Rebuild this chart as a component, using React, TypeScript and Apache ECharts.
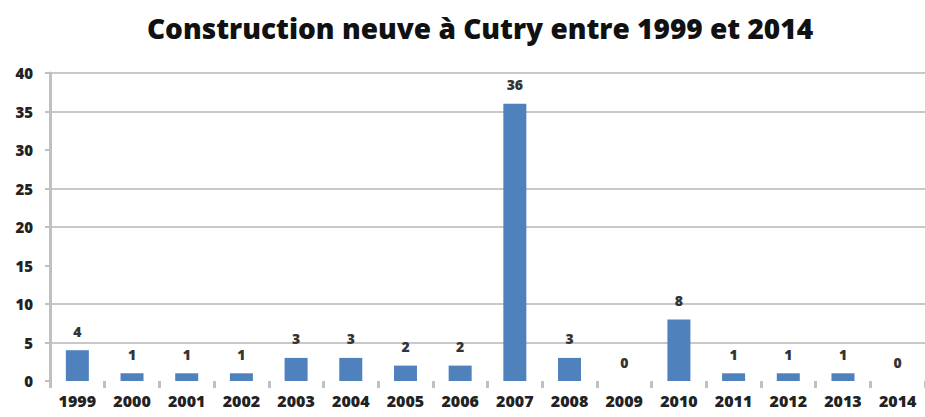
import React, { useEffect, useRef } from "react";
import * as echarts from "echarts";

const years = ["1999","2000","2001","2002","2003","2004","2005","2006","2007","2008","2009","2010","2011","2012","2013","2014"];
const counts = [4,1,1,1,3,3,2,2,36,3,0,8,1,1,1,0];
const titleText = "Construction neuve à Cutry entre 1999 et 2014";

export default function App() {
  const ref = useRef<HTMLDivElement>(null);
  useEffect(() => {
    if (!ref.current) return;
    const chart = echarts.init(ref.current, null, { renderer: "svg" });
    const font = "Open Sans";
    chart.setOption({
      animation: false,
      backgroundColor: "#ffffff",
      title: {
        text: titleText,
        left: 475,
        textAlign: "center",
        top: 9,
        textStyle: { fontFamily: font, fontWeight: 800, fontSize: 28, color: "#111" },
      },
      grid: { left: 50, top: 73, bottom: 36, width: 883 },
      xAxis: {
        type: "category",
        data: years,
        axisLine: { show: false },
        axisTick: { show: true, length: 7, lineStyle: { color: "#c0c0c0", width: 3 } },
        axisLabel: { fontFamily: font, fontWeight: 800, fontSize: 16, color: "#222", margin: 12 },
      },
      yAxis: {
        type: "value",
        min: 0,
        max: 40,
        interval: 5,
        axisLine: { show: true, lineStyle: { color: "#c0c0c0", width: 3 } },
        axisTick: { show: true, length: 5, lineStyle: { color: "#c0c0c0", width: 2 } },
        axisLabel: { fontFamily: font, fontWeight: 800, fontSize: 15, color: "#222", margin: 17 },
        splitLine: {
          lineStyle: {
            color: ["transparent", "#c8c8c8", "#c8c8c8", "transparent", "#c8c8c8", "#c8c8c8", "transparent", "#c8c8c8", "#c8c8c8"],
            width: 2,
          },
        },
      },
      series: [
        {
          type: "bar",
          data: counts,
          barWidth: 23,
          itemStyle: { color: "#4f81bd" },
          label: {
            show: true,
            position: "top",
            distance: 12,
            fontFamily: font,
            fontWeight: 800,
            fontSize: 14,
            color: "#333",
          },
        },
      ],
    });
    return () => chart.dispose();
  }, []);
  return <div ref={ref} style={{ width: 925, height: 417, position: "absolute", left: 0, top: 0 }} />;
}
